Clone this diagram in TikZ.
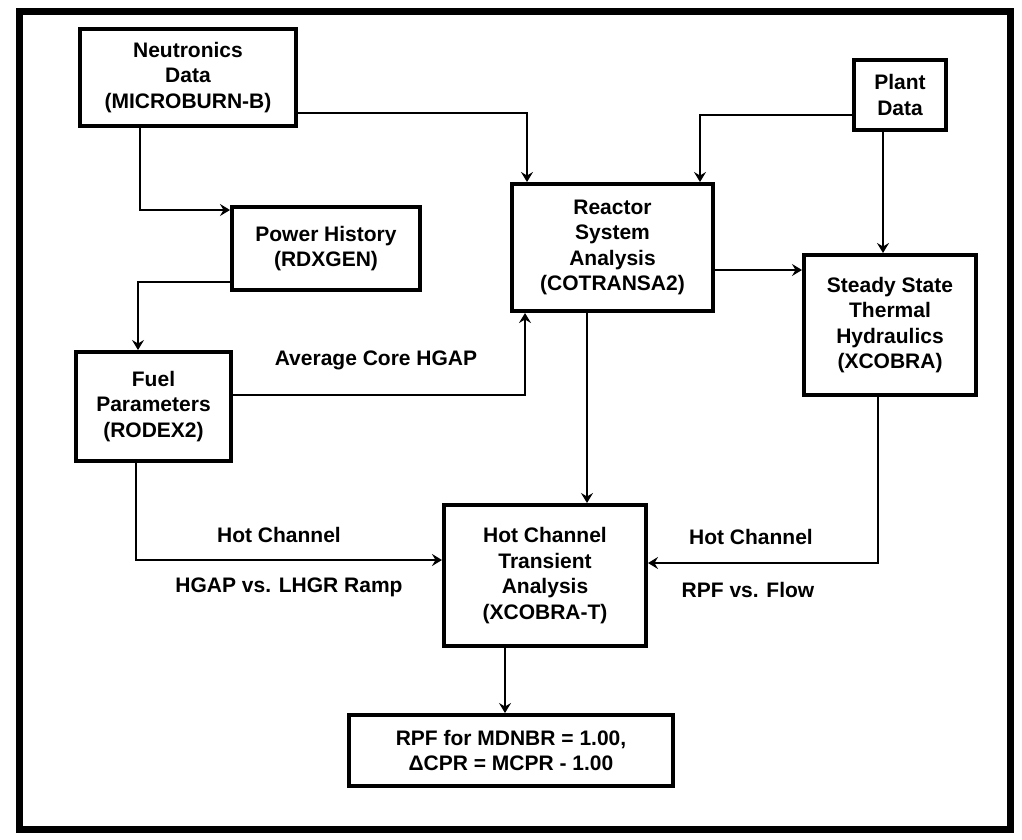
\documentclass[tikz,border=0pt]{standalone}
\usepackage{fontspec}
\setmainfont{Liberation Sans}
\usetikzlibrary{arrows.meta}
\begin{document}
\begin{tikzpicture}[x=1pt,y=-1pt,
  box/.style={draw,line width=4pt,inner sep=0pt,align=center,
    font=\bfseries\fontsize{21}{25.5}\selectfont},
  lbl/.style={inner sep=0pt,font=\bfseries\fontsize{21}{25.5}\selectfont},
  arr/.style={line width=2pt,-{Stealth[length=10pt,width=12pt,inset=3.5pt]}},
  frame/.style={line width=7pt}]
\useasboundingbox (0,0) rectangle (1022,839);
\draw[frame] (19,11) rectangle (1010,829);

\node[box,minimum width=216pt,minimum height=97pt] (neut) at (188,77.5)
  {Neutronics\\Data\\(MICROBURN-B)};
\node[box,minimum width=188pt,minimum height=83pt] (power) at (326,248.5)
  {Power History\\(RDXGEN)};
\node[box,minimum width=155pt,minimum height=109pt] (fuel) at (153.5,406.5)
  {Fuel\\Parameters\\(RODEX2)};
\node[box,minimum width=201pt,minimum height=127pt] (reactor) at (612.5,247.5)
  {Reactor\\System\\Analysis\\(COTRANSA2)};
\node[box,minimum width=92pt,minimum height=70pt] (plant) at (900,95)
  {Plant\\Data};
\node[box,minimum width=172pt,minimum height=140pt] (steady) at (890,325)
  {Steady State\\Thermal\\Hydraulics\\(XCOBRA)};
\node[box,minimum width=202pt,minimum height=141pt] (hot) at (545,575.5)
  {Hot Channel\\Transient\\Analysis\\(XCOBRA-T)};
\node[box,minimum width=324pt,minimum height=71pt] (rpf) at (511,750.5)
  {RPF for MDNBR = 1.00,\\ΔCPR = MCPR - 1.00};

\draw[arr] (neut.east |- 0,113) -| (527,0 |- reactor.north);
\draw[arr] (140,0 |- neut.south) |- (power.west |- 0,210);
\draw[arr] (power.west |- 0,282) -| (138,0 |- fuel.north);
\draw[arr] (fuel.east |- 0,395) -| (525,0 |- reactor.south);
\draw[arr] (plant.west |- 0,115) -| (700,0 |- reactor.north);
\draw[arr] (883,0 |- plant.south) -- (883,0 |- steady.north);
\draw[arr] (reactor.east |- 0,270) -- (steady.west |- 0,270);
\draw[arr] (587,0 |- reactor.south) -- (587,0 |- hot.north);
\draw[arr] (136,0 |- fuel.south) |- (hot.west |- 0,560);
\draw[arr] (878,0 |- steady.south) |- (hot.east |- 0,563);
\draw[arr] (505,0 |- hot.south) -- (505,0 |- rpf.north);

\node[lbl] (l1) at (376,360) {Average Core HGAP};
\node[lbl] (l2) at (279,535) {Hot Channel};
\node[lbl] (l3) at (289,587) {HGAP vs. LHGR Ramp};
\node[lbl] (l4) at (751,537) {Hot Channel};
\node[lbl] (l5) at (748,590) {RPF vs. Flow};
\end{tikzpicture}
\end{document}
